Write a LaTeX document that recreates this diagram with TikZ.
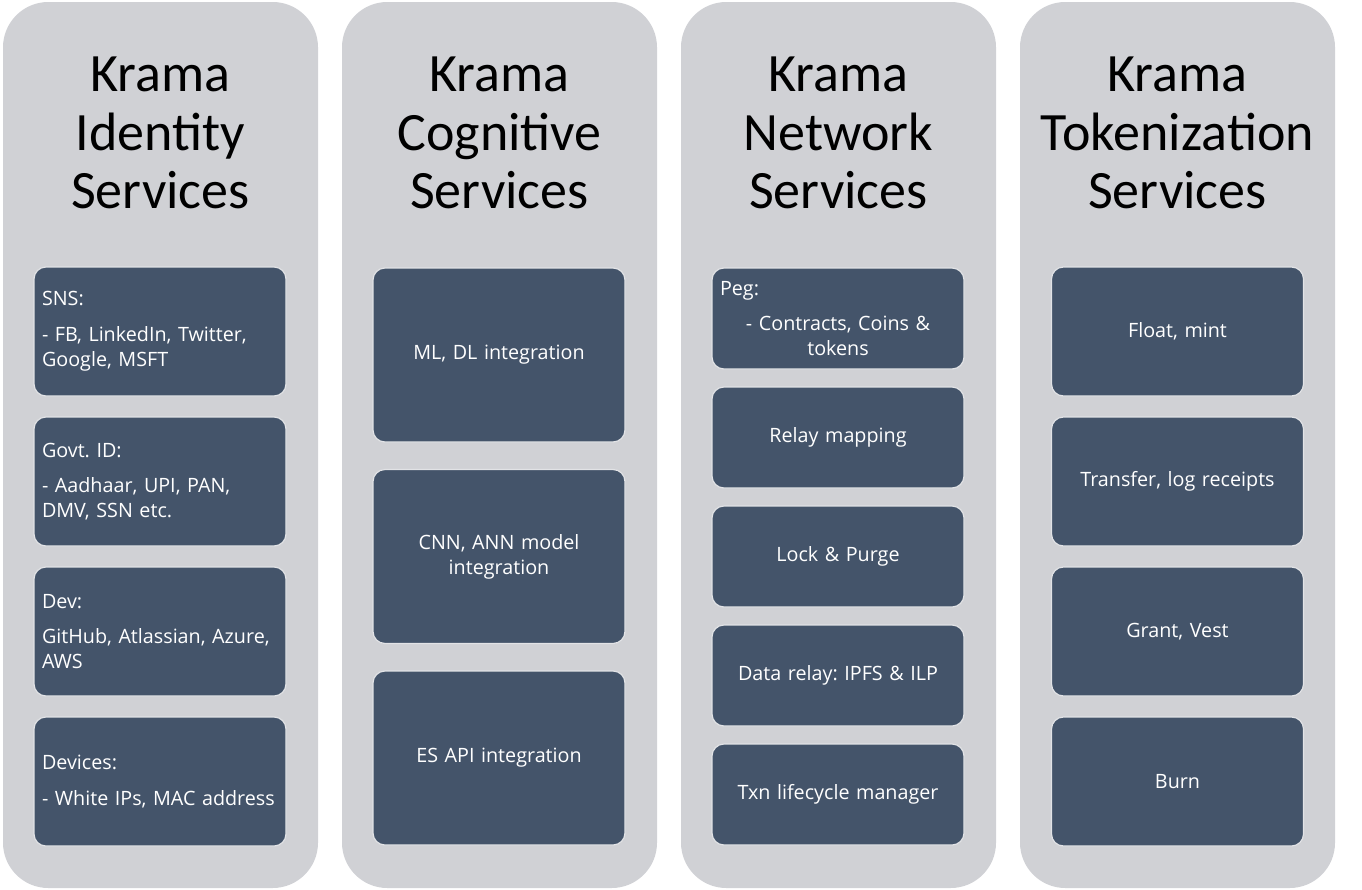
\documentclass[tikz,border=0pt]{standalone}
\usepackage{fontspec}
\setmainfont{Open Sans}
\newfontfamily\headfont{Carlito}
\frenchspacing
\definecolor{colbg}{RGB}{208,209,213}
\definecolor{itembg}{RGB}{68,84,106}
\definecolor{itemedge}{RGB}{226,227,230}

\begin{document}
\begin{tikzpicture}[x=0.75pt,y=0.75pt,yscale=-1,xscale=1,
  column/.style={fill=colbg, draw=none, rounded corners=34pt, inner sep=0pt, minimum width=236.25pt, minimum height=664.5pt},
  title/.style={font=\headfont\fontsize{40.5}{44}\selectfont, align=center, text=black, inner sep=0pt},
  item/.style={fill=itembg, draw=itemedge, line width=0.9pt, rounded corners=9pt, text=white, font=\frenchspacing\fontsize{14.8}{18.75}\selectfont, text width=177pt, inner xsep=6pt, inner ysep=0pt},
  itemA/.style={item, align=left, minimum height=96.75pt},
  itemB/.style={item, align=center, minimum height=130.5pt},
  itemC/.style={item, align=center, minimum height=75.75pt},
  itemD/.style={item, align=center, minimum height=96.75pt}]
\useasboundingbox (0,0) rectangle (1362,889);

%Columns
\node [column] (colid) at (160.5,445) {};
\node [column] (colcog) at (499.5,445) {};
\node [column] (colnet) at (838.5,445) {};
\node [column] (coltok) at (1177.5,445) {};

% Title Nodes
\node [title] (tid) at (160.5,133) {Krama\\Identity\\Services};
\node [title] (tcog) at (499.5,133) {Krama\\Cognitive\\Services};
\node [title] (tnet) at (838.5,133) {Krama\\Network\\Services};
\node [title] (ttok) at (1177.5,133) {Krama\\Tokenization\\Services};

%Identity items
\node [itemA] (sns) at (160,331.5) {SNS:\\[8pt]- FB, LinkedIn, Twitter,\\Google, MSFT};
\node [itemA] (govt) at (160,481.5) {Govt. ID:\\[8pt]- Aadhaar, UPI, PAN,\\DMV, SSN etc.};
\node [itemA] (dev) at (160,631.5) {Dev:\\[8pt]GitHub, Atlassian, Azure,\\AWS};
\node [itemA] (devices) at (160,781.5) {Devices:\\[8pt]- White IPs, MAC address};

%Cognitive items
\node [itemB] (mldl) at (499,355) {ML, DL integration};
\node [itemB] (cnn) at (499,556.5) {CNN, ANN model\\integration};
\node [itemB] (esapi) at (499,758) {ES API integration};

%Network items
\node [itemC] (peg) at (838,318.5) {\makebox[\linewidth][l]{Peg:}\\[8pt]- Contracts, Coins \&\\tokens};
\node [itemC] (relay) at (838,437.5) {Relay mapping};
\node [itemC] (lock) at (838,556.5) {Lock \& Purge};
\node [itemC] (datarelay) at (838,675.5) {Data relay: IPFS \& ILP};
\node [itemC] (txn) at (838,794.5) {Txn lifecycle manager};

%Tokenization items
\node [itemD] (float) at (1177.5,331.5) {Float, mint};
\node [itemD] (transfer) at (1177.5,481.5) {Transfer, log receipts};
\node [itemD] (grant) at (1177.5,631.5) {Grant, Vest};
\node [itemD] (burn) at (1177.5,781.5) {Burn};

\end{tikzpicture}
\end{document}
